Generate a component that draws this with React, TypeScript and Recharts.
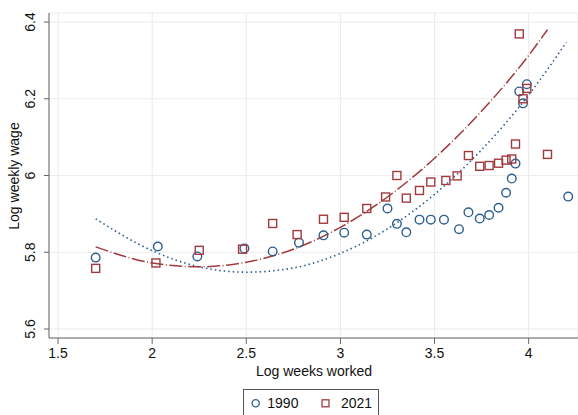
import React from 'react';
import { ComposedChart, Scatter, Line, XAxis, YAxis, CartesianGrid } from 'recharts';

// binned scatter points (log weeks worked -> log weekly wage)
const weeks1990 = [1.70, 2.03, 2.24, 2.49, 2.64, 2.78, 2.91, 3.02, 3.14, 3.25, 3.30, 3.35, 3.42, 3.48, 3.55, 3.63, 3.68, 3.74, 3.79, 3.84, 3.88, 3.91, 3.93, 3.95, 3.97, 3.99, 4.21];
const wage1990 = [5.786, 5.815, 5.789, 5.810, 5.802, 5.825, 5.844, 5.851, 5.846, 5.914, 5.874, 5.852, 5.885, 5.885, 5.885, 5.860, 5.904, 5.888, 5.897, 5.916, 5.955, 5.992, 6.031, 6.219, 6.188, 6.238, 5.945];

const weeks2021 = [1.70, 2.02, 2.25, 2.48, 2.64, 2.77, 2.91, 3.02, 3.14, 3.24, 3.30, 3.35, 3.42, 3.48, 3.56, 3.62, 3.68, 3.74, 3.79, 3.84, 3.88, 3.91, 3.93, 3.95, 3.97, 3.99, 4.10];
const wage2021 = [5.758, 5.772, 5.805, 5.808, 5.875, 5.846, 5.886, 5.891, 5.914, 5.944, 6.000, 5.941, 5.961, 5.983, 5.987, 5.999, 6.052, 6.024, 6.026, 6.032, 6.040, 6.043, 6.082, 6.369, 6.200, 6.227, 6.055];

// fitted curves
const fitWeeks1990 = [1.70, 2.00, 2.25, 2.50, 2.75, 3.00, 3.25, 3.50, 3.75, 4.00, 4.20];
const fitWage1990 = [5.887, 5.804, 5.762, 5.748, 5.759, 5.797, 5.861, 5.951, 6.067, 6.210, 6.347];
const fitWeeks2021 = [1.70, 2.00, 2.25, 2.50, 2.75, 3.00, 3.25, 3.50, 3.75, 4.00, 4.10];
const fitWage2021 = [5.814, 5.772, 5.762, 5.774, 5.808, 5.865, 5.944, 6.045, 6.168, 6.313, 6.380];

const xTicks = [1.5, 2, 2.5, 3, 3.5, 4];
const yTicks = [5.6, 5.8, 6, 6.2, 6.4];

const blue = '#2f5f8f';
const red = '#a23a3d';
const ink = '#111';
const font = '"Liberation Sans", Arial, sans-serif';

const pts1990 = weeks1990.map((x, i) => ({ x, y: wage1990[i] }));
const pts2021 = weeks2021.map((x, i) => ({ x, y: wage2021[i] }));
const fit1990 = fitWeeks1990.map((x, i) => ({ x, y: fitWage1990[i] }));
const fit2021 = fitWeeks2021.map((x, i) => ({ x, y: fitWage2021[i] }));

const Circle = (props: any) => (
  <circle cx={props.cx} cy={props.cy} r={4.3} fill="none" stroke={blue} strokeWidth={1.4} />
);
const Square = (props: any) => (
  <rect x={props.cx - 4} y={props.cy - 4} width={8} height={8} fill="none" stroke={red} strokeWidth={1.4} />
);

const YTick = ({ x, y, payload }: any) => {
  const tx = x - 7;
  return (
    <text x={tx} y={y} transform={`rotate(-90, ${tx}, ${y})`} textAnchor="middle" fontSize={14} fontFamily={font} fill={ink}>
      {payload.value}
    </text>
  );
};

export default function App() {
  return (
    <div style={{ position: 'absolute', left: 0, top: 0, width: 578, height: 415, background: '#fff', overflow: 'hidden' }}>
      <ComposedChart width={578} height={415} margin={{ top: 13, right: 0, bottom: 0, left: 0 }}>
        <CartesianGrid stroke="#ececec" strokeWidth={1.2} />
        <XAxis
          type="number"
          dataKey="x"
          domain={[1.452, 4.262]}
          ticks={xTicks}
          height={77}
          tickSize={6}
          tickMargin={4}
          stroke="#666"
          tick={{ fontSize: 14, fontFamily: font, fill: ink }}
          allowDataOverflow
        />
        <YAxis
          type="number"
          dataKey="y"
          domain={[5.5765, 6.4235]}
          ticks={yTicks}
          width={49}
          tickSize={5}
          stroke="#666"
          tick={<YTick />}
          allowDataOverflow
        />
        <Line data={fit1990} dataKey="y" type="monotone" stroke={blue} strokeWidth={1.6} strokeDasharray="1.5 3" dot={false} activeDot={false} isAnimationActive={false} />
        <Line data={fit2021} dataKey="y" type="monotone" stroke={red} strokeWidth={1.5} strokeDasharray="13 2.5 1 2.5" dot={false} activeDot={false} isAnimationActive={false} />
        <Scatter data={pts1990} dataKey="y" shape={<Circle />} isAnimationActive={false} />
        <Scatter data={pts2021} dataKey="y" shape={<Square />} isAnimationActive={false} />
        <text x={18.5} y={176} transform="rotate(-90, 18.5, 176)" textAnchor="middle" fontSize={14} fontFamily={font} fill={ink}>
          Log weekly wage
        </text>
        <text x={314} y={376} textAnchor="middle" fontSize={14} fontFamily={font} fill={ink}>
          Log weeks worked
        </text>
      </ComposedChart>
      <div
        style={{
          position: 'absolute',
          left: 243,
          top: 389,
          width: 136,
          height: 32,
          border: '1px solid #555',
          boxSizing: 'border-box',
        }}
      >
        <svg width={136} height={32} style={{ position: 'absolute', left: -1, top: -1 }}>
          <circle cx={12.7} cy={14.3} r={3.6} fill="none" stroke={blue} strokeWidth={1.3} />
          <text x={24.3} y={19} fontSize={14} fontFamily={font} fill={ink}>1990</text>
          <rect x={79} y={10.8} width={7} height={7} fill="none" stroke={red} strokeWidth={1.3} />
          <text x={98} y={19} fontSize={14} fontFamily={font} fill={ink}>2021</text>
        </svg>
      </div>
    </div>
  );
}
